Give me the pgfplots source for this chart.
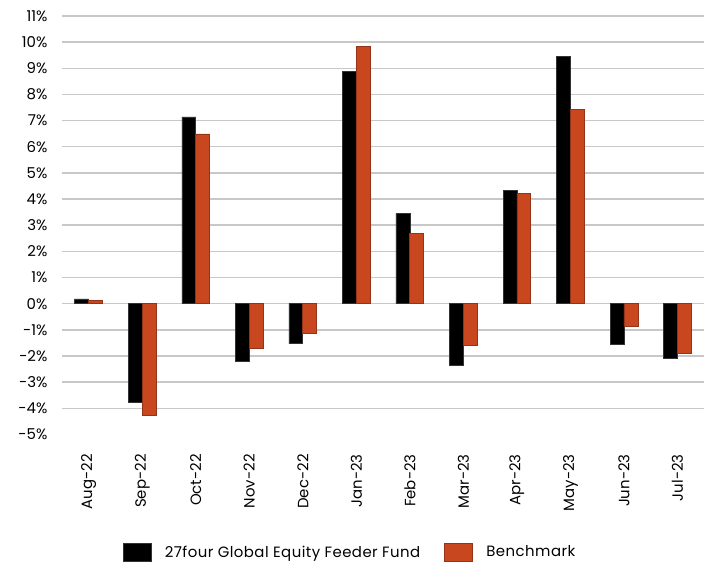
\documentclass[border=0pt]{standalone}
\usepackage{pgfplots}
\pgfplotsset{compat=1.18}
\usepackage{fontspec}
\setmainfont{Poppins}
\definecolor{bench}{HTML}{C9471F}
\definecolor{benchedge}{HTML}{93341A}
\definecolor{gridc}{HTML}{C8C8C8}
\pgfplotsset{boxlegend/.style={legend image code/.code={\draw[#1] (0pt,-6.5pt) rectangle (21pt,6.5pt);}}}
\newcommand\lf{\fontsize{11.2pt}{13pt}\selectfont}
\begin{document}
\lf
\begin{tikzpicture}
\begin{axis}[
  scale only axis,
  width=482pt, height=314pt,
  xmin=-0.5, xmax=11.5,
  ymin=-5, ymax=11,
  axis line style={draw=none},
  tick style={draw=none},
  xtick={0,...,11},
  xticklabels={Aug-22,Sep-22,Oct-22,Nov-22,Dec-22,Jan-23,Feb-23,Mar-23,Apr-23,May-23,Jun-23,Jul-23},
  xticklabel style={rotate=90, anchor=east, font=\lf},
  ytick={-4,...,11},
  extra y ticks={-5},
  extra y tick style={ymajorgrids=false},
  /pgf/number format/assume math mode=true,
  yticklabel={\pgfmathprintnumber{\tick}\%},
  yticklabel style={font=\lf, xshift=-7pt},
  xticklabel shift=11pt,
  ymajorgrids,
  grid style={gridc, line width=1.1pt},
  bar width=0.26,
  legend style={at={(0.449,-0.282)}, anchor=center, draw=none, legend columns=2,
    font=\lf\addfontfeature{LetterSpace=3},
    /tikz/every odd column/.append style={column sep=8pt},
    /tikz/every even column/.append style={column sep=16pt}},
  legend cell align=left,
]
\addplot[ybar, bar shift=-0.13, fill=black, draw=black!80, line width=0.5pt, boxlegend]
  coordinates {(0,0.18) (1,-3.76) (2,7.14) (3,-2.22) (4,-1.53) (5,8.87) (6,3.44) (7,-2.35) (8,4.34) (9,9.45) (10,-1.54) (11,-2.08)};
\addlegendentry{27four Global Equity Feeder Fund}
\addplot[ybar, bar shift=0.13, fill=bench, draw=benchedge, line width=0.6pt, boxlegend]
  coordinates {(0,0.11) (1,-4.29) (2,6.49) (3,-1.71) (4,-1.15) (5,9.84) (6,2.70) (7,-1.61) (8,4.23) (9,7.42) (10,-0.88) (11,-1.91)};
\addlegendentry{Benchmark}
\end{axis}
\useasboundingbox (current axis.south west) ++(-46.5pt,-99pt) rectangle ([yshift=12pt]current axis.north east);
\end{tikzpicture}
\end{document}
